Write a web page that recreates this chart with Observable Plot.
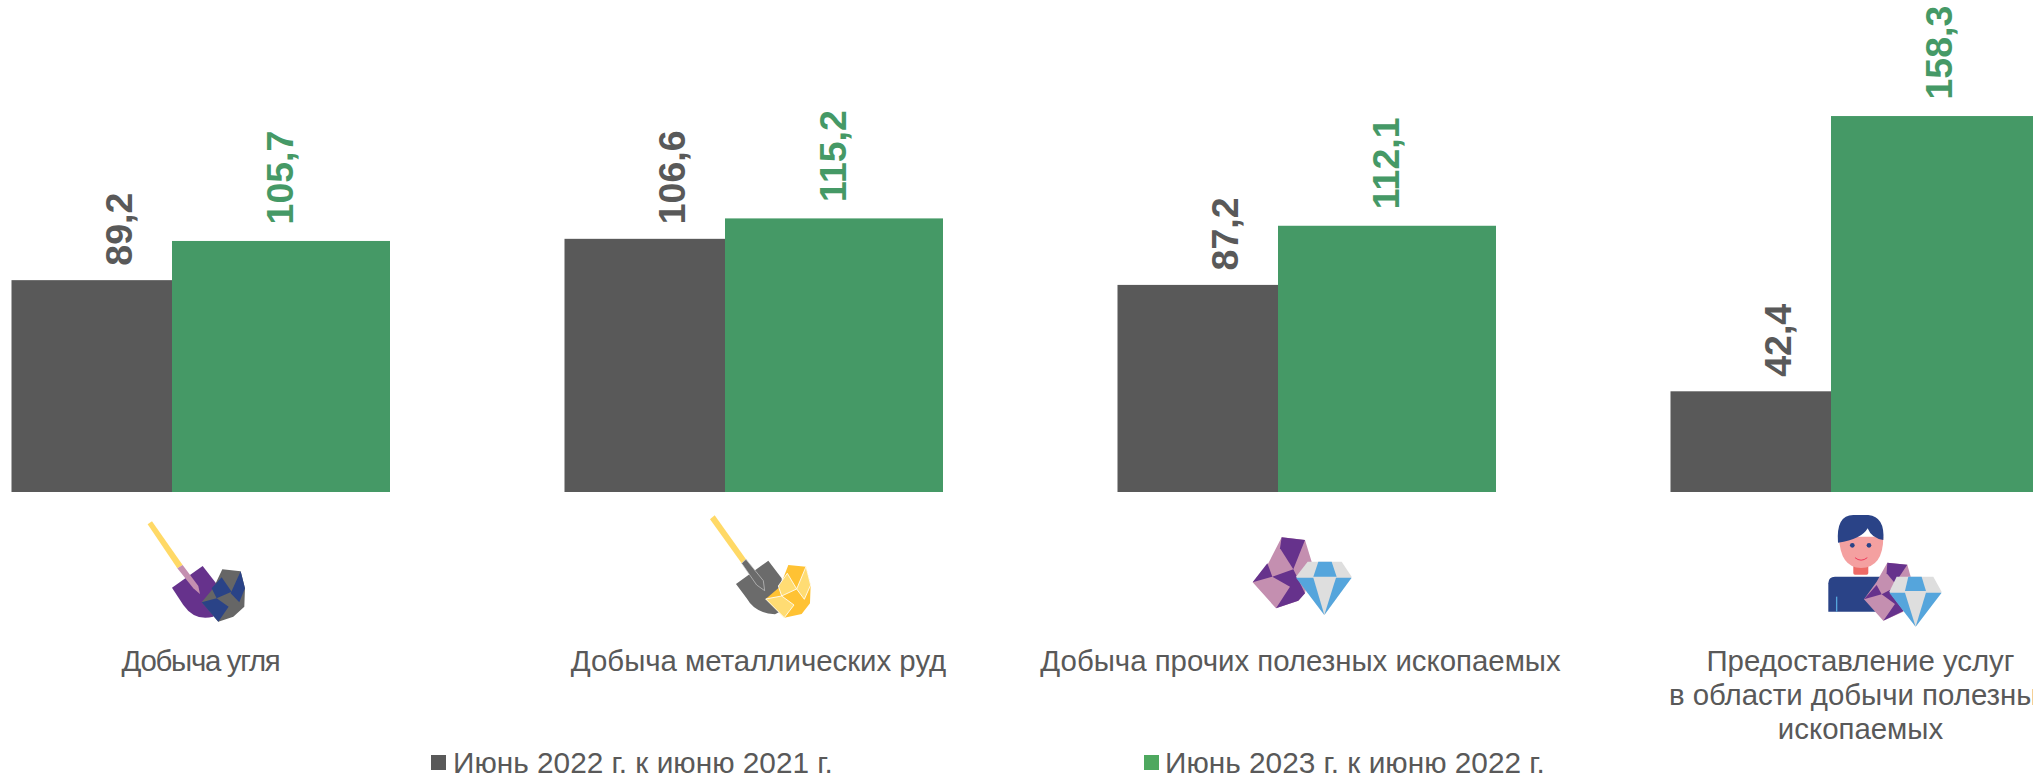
<!DOCTYPE html>
<html><head><meta charset="utf-8">
<script src="https://cdn.jsdelivr.net/npm/d3@7"></script>
<script src="https://cdn.jsdelivr.net/npm/@observablehq/plot@0.6"></script>
<style>
html,body{margin:0;padding:0;background:#fff;width:2033px;height:775px;overflow:hidden;position:relative}
#chart{position:absolute;left:-47px;top:0;width:2097px;height:775px}
#chart svg{max-width:none}
.lg{position:absolute;top:751px;font:29.8px "Liberation Sans",Arial,sans-serif;color:#595959;line-height:24px;white-space:nowrap}
.sw{position:absolute;top:755px;width:15px;height:15px}
</style></head><body>
<div id="chart"></div>
<div class="sw" style="left:431px;background:#595959"></div><div class="lg" style="left:453px">Июнь 2022 г. к июню 2021 г.</div>
<div class="sw" style="left:1144px;background:#4EA85F"></div><div class="lg" style="left:1165px">Июнь 2023 г. к июню 2022 г.</div>
<svg width="2033" height="775" style="position:absolute;left:0;top:0;pointer-events:none">
<g transform="translate(0,480) scale(.3333)">
<polygon fill="#FFD966" points="443,133 456,124 548,255 532,265"/>
<path fill="#66328C" d="M516,323 L608,258 L660,325 L640,410 Q585,425 550,375Z"/>
<polygon fill="#C48FB0" points="532,265 548,255 595,318 600,342 580,325"/>
<polygon fill="#666" points="667,268 722,274 735,325 733,380 700,410 655,425 605,367 640,325"/>
<g fill="#2A4387"><polygon points="665,292 695,335 650,355 635,325"/><polygon points="722,274 735,325 718,367 692,340"/><polygon points="605,367 650,355 686,380 655,425"/></g>
</g>
<g transform="translate(700,510) scale(.3333)">
<polygon fill="#FFD966" points="30,28 44,16 138,148 125,160"/>
<path fill="#6B6B6B" d="M108,222 L205,152 L245,205 L250,300 L225,313 Q165,310 140,265Z"/>
<polygon fill="#6B6B6B" stroke="#ccc" stroke-width="2" points="125,160 138,148 190,212 194,242 170,225"/>
<polygon fill="#FFC233" points="265,165 318,170 332,225 330,280 305,312 253,323 197,267 240,230"/>
<g fill="#FFDC73" stroke="#fff" stroke-width="2.5"><polygon points="262,190 290,237 245,258 235,228"/><polygon points="318,170 332,225 313,268 290,237"/><polygon points="197,267 245,258 282,285 253,323"/></g>
</g>
<g transform="translate(1240,530) scale(.3333)">
<polygon fill="#C48FB0" points="125,22 195,30 215,95 195,190 175,212 108,235 38,157 85,100"/>
<g fill="#66328C"><polygon points="125,22 195,30 160,118 120,55"/><polygon points="82,100 97,140 38,157"/><polygon points="97,140 160,118 195,190 175,212 108,235 150,170"/></g>
<polygon fill="#DEDEDE" points="203,95 305,95 335,140 253,255 168,140"/>
<g fill="#55A5DC"><polygon points="235,95 275,95 290,140 220,140"/><polygon points="168,143 220,143 253,255"/><polygon points="288,143 335,143 253,255"/></g>
</g>
<g transform="translate(1600,480) scale(.3333)">
<path fill="#2A4387" d="M685,310 Q685,290 705,290 L850,290 L860,395 L685,395Z"/>
<rect x="708" y="350" width="4" height="45" fill="#55A5DC"/>
<rect x="760" y="255" width="45" height="29" rx="5" fill="#EE6A66"/>
<path fill="#F4A0A0" d="M717,170 L850,170 Q850,262 783,264 Q720,262 717,170Z"/>
<path fill="#2A4387" d="M714,188 Q708,105 760,105 L805,105 Q855,110 850,180 Q815,175 803,145 Q785,178 714,188Z"/>
<circle cx="757" cy="196" r="7" fill="#2A4387"/><circle cx="807" cy="196" r="7" fill="#2A4387"/>
<path d="M765,233 Q783,248 802,233" stroke="#EE3A5A" stroke-width="3" fill="none"/>
<polygon fill="#C48FB0" points="862,248 922,254 935,300 910,395 850,422 792,358 830,305"/>
<g fill="#66328C"><polygon points="862,248 922,254 885,310 860,280"/><polygon points="830,315 845,343 792,358"/><polygon points="845,343 880,325 912,392 850,422 885,372"/></g>
<polygon fill="#DEDEDE" points="890,290 1000,290 1025,335 947,440 868,335"/>
<g fill="#55A5DC"><polygon points="925,290 965,290 978,333 915,333"/><polygon points="868,338 915,338 947,440"/><polygon points="978,338 1025,338 947,440"/></g>
</g>
</svg>
<script>
const categories = ["Добыча угля","Добыча металлических руд","Добыча прочих полезных ископаемых","Предоставление услуг\nв области добычи полезных\nископаемых"];
const series = ["Июнь 2022 г. к июню 2021 г.","Июнь 2023 г. к июню 2022 г."];
const values2022 = [89.2,106.6,87.2,42.4];
const values2023 = [105.7,115.2,112.1,158.3];
const colors = ["#595959","#459966"];
const fmt = d => d.toFixed(1).replace(".",",");
const d22 = categories.map((c,i)=>({c,s:series[0],v:values2022[i]}));
const d23 = categories.map((c,i)=>({c,s:series[1],v:values2023[i]}));
const labelFont = {fontFamily:"Liberation Sans, Arial, sans-serif",fontWeight:"bold",fontSize:37.5,rotate:-90,textAnchor:"start",lineAnchor:"middle"};
const categoryShift = [-1,4,-7,0];
const plot = Plot.plot({
  width:2097,height:775,marginLeft:0,marginRight:0,marginTop:0,marginBottom:283,
  style:{background:"transparent",overflow:"visible"},
  fx:{domain:categories,paddingInner:0.2123,paddingOuter:0,axis:null},
  x:{domain:series,padding:0,axis:null},
  y:{domain:[0,207.16],axis:null},
  color:{domain:series,range:colors},
  marks:[
    Plot.barY(d22,{fx:"c",x:"s",y:"v",fill:"s",insetLeft:57.5}),
    Plot.barY(d23,{fx:"c",x:"s",y:"v",fill:"s"}),
    Plot.text(d22,{fx:"c",x:"s",y:"v",text:d=>fmt(d.v),fill:colors[0],dx:56,dy:-15,...labelFont}),
    Plot.text(d23,{fx:"c",x:"s",y:"v",text:d=>fmt(d.v),fill:colors[1],dx:-1,dy:-17,...labelFont}),
    ...categories.map((c,i)=>Plot.text([c],{fx:d=>d,y:0,text:d=>d,dx:29+categoryShift[i],dy:154.5,lineAnchor:"top",lineHeight:1.15,textAnchor:"middle",fill:"#595959",fontSize:29.4,fontFamily:"Liberation Sans, Arial, sans-serif"}))
  ]
});
document.getElementById("chart").append(plot);
d3.select(plot).selectAll("text").filter(function(){return this.textContent===categories[0];}).style("letter-spacing","-1.3px");
</script>
</body></html>
